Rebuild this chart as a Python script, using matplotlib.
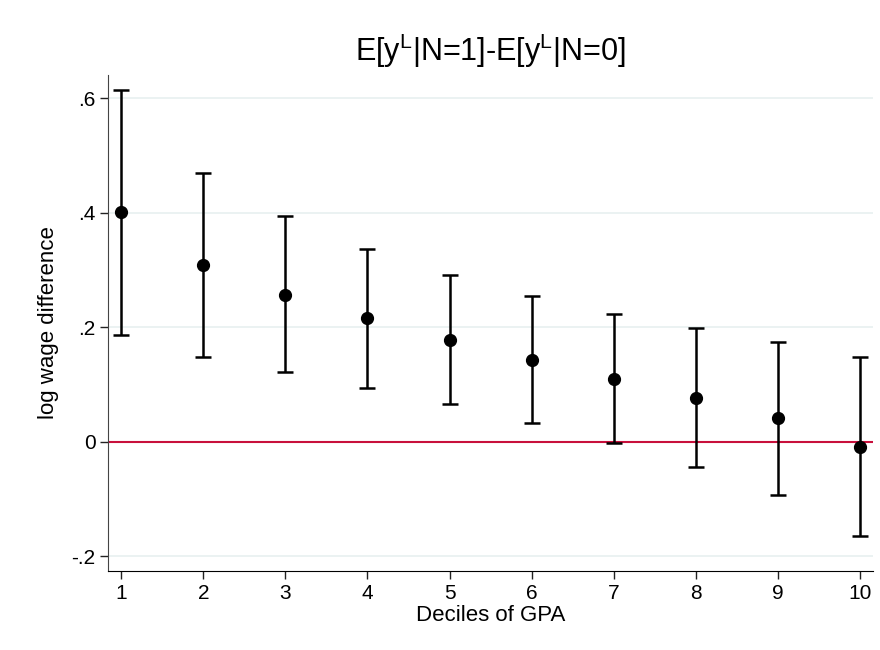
import matplotlib
matplotlib.use('Agg')
import matplotlib.pyplot as plt

plt.rcParams['font.family'] = ['Liberation Sans', 'DejaVu Sans']
plt.rcParams['mathtext.fontset'] = 'custom'
plt.rcParams['mathtext.rm'] = 'Liberation Sans'

# Datos
deciles = [1, 2, 3, 4, 5, 6, 7, 8, 9, 10]
coef = [0.401, 0.308, 0.257, 0.216, 0.178, 0.143, 0.110, 0.077, 0.041, -0.009]
ci_low = [0.187, 0.148, 0.122, 0.094, 0.065, 0.033, -0.002, -0.044, -0.093, -0.165]
ci_high = [0.615, 0.469, 0.394, 0.337, 0.291, 0.254, 0.223, 0.198, 0.174, 0.148]

yticks = [-0.2, 0, 0.2, 0.4, 0.6]
yticklabels = ['-.2', '0', '.2', '.4', '.6']

fig = plt.figure(figsize=(8.8, 6.5), dpi=100)
ax = fig.add_axes([0.1227, 0.1215, 0.8693, 0.7635])

err = [[c - l for c, l in zip(coef, ci_low)], [h - c for c, h in zip(coef, ci_high)]]
ax.errorbar(deciles, coef, yerr=err, fmt='o', color='black', ecolor='black',
            markersize=8.5, elinewidth=1.8, capsize=6, capthick=1.8, zorder=3)

# Línea en cero
ax.axhline(0, color='#c8103c', linewidth=1.5, zorder=2)

ax.set_xlim(0.838, 10.16)
ax.set_ylim(-0.226, 0.641)
ax.set_xticks(deciles)
ax.set_yticks(yticks)
ax.set_yticklabels(yticklabels)
ax.grid(axis='y', color='#e8f0f0', linewidth=1.2, zorder=0)
ax.set_axisbelow(True)

for s in ('top', 'right'):
    ax.spines[s].set_visible(False)
ax.spines['left'].set_color('#444444')
ax.spines['bottom'].set_color('black')
ax.tick_params(axis='both', direction='out', length=6, width=1, labelsize=15,
               colors='#222222', labelcolor='black', pad=3)

ax.set_xlabel('Deciles of GPA', fontsize=16, labelpad=2)
ax.set_ylabel('log wage difference', fontsize=16, labelpad=9)
ax.set_title(r'E[y$^{\mathrm{L}}$|N=1]-E[y$^{\mathrm{L}}$|N=0]', fontsize=22, pad=10)

fig.savefig('out.png', dpi=100, facecolor='white')
